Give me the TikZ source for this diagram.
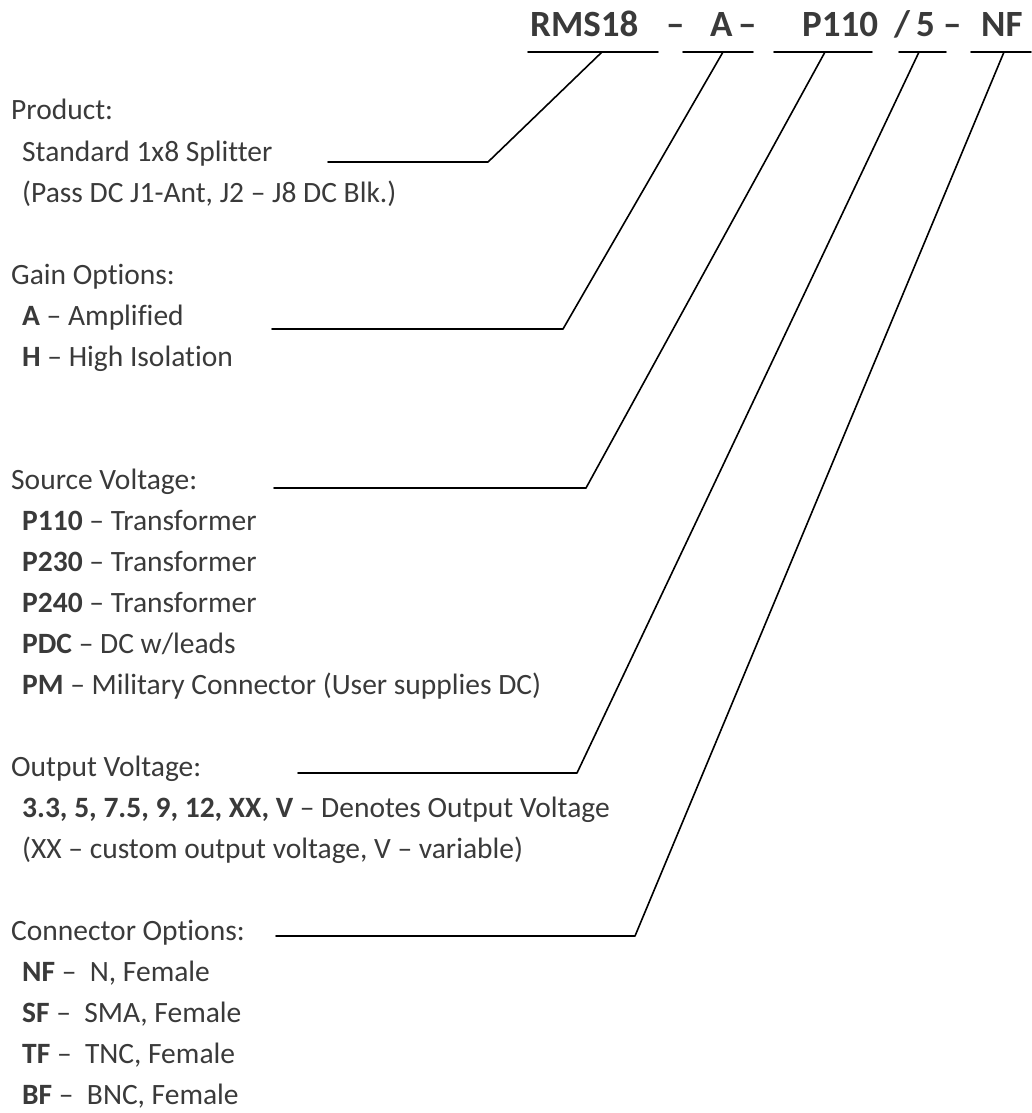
\documentclass[tikz,border=0pt]{standalone}
\usepackage{fontspec}
\setmainfont{Carlito}[Ligatures={TeX,NoCommon}]
\usetikzlibrary{positioning}
\definecolor{txtgray}{HTML}{3A3A3A}
\tikzset{
  lbl/.style={anchor=base west, inner sep=0pt, text=txtgray, font=\fontsize{29.5}{35}\selectfont},
  code/.style={anchor=base west, inner sep=0pt, text=txtgray, font=\fontsize{37}{40}\selectfont\bfseries},
  lead/.style={draw=black, line width=1.6pt},
  every picture/.style={line cap=round, line join=round}
}

\begin{document}
\begin{tikzpicture}[x=1pt, y=-1pt]
  \useasboundingbox (0,0) rectangle (1031,1113);
  % part number
  \node[code] (rms) at (530,37) {RMS18};
  \node[code] (d1) at (666,37) {–};
  \node[code] (gain) at (710,37) {A};
  \node[code] (d2) at (738,37) {–};
  \node[code] (src) at (802,37) {P110};
  \node[code] (sl) at (894,37) {/};
  \node[code] (out) at (916,37) {5};
  \node[code] (d3) at (943,37) {–};
  \node[code] (conn) at (981,37) {NF};
  % underlines
  \coordinate (rmsA) at (528,52);  \coordinate (rmsB) at (658,52);
  \coordinate (gainA) at (683,52); \coordinate (gainB) at (753,52);
  \coordinate (srcA) at (774,52);  \coordinate (srcB) at (872,52);
  \coordinate (outA) at (899,52);  \coordinate (outB) at (946,52);
  \coordinate (connA) at (971,52); \coordinate (connB) at (1031,52);
  \draw[lead] (rmsA)--(rmsB) (gainA)--(gainB) (srcA)--(srcB)
              (outA)--(outB) (connA)--(connB);
  \coordinate (rmsT) at (602,52);
  \coordinate (gainT) at (723,52);
  \coordinate (srcT) at (825,52);
  \coordinate (outT) at (919,52);
  \coordinate (connT) at (1004,52);

  % product
  \node[lbl] (prod) at (11,120) {Product:};
  \node[lbl] (prod1) at (22,161) {Standard 1x8 Splitter};
  \node[lbl] (prod2) at (22,202) {(Pass DC J1-Ant, J2 – J8 DC Blk.)};
  % gain
  \node[lbl] (gn) at (11,284) {Gain Options:};
  \node[lbl] (gn1) at (22,325) {\textbf{A} – Amplified};
  \node[lbl] (gn2) at (22,366) {\textbf{H} – High Isolation};
  % source voltage
  \node[lbl] (sv) at (11,489) {Source Voltage:};
  \node[lbl] (sv1) at (22,530) {\textbf{P110} – Transformer};
  \node[lbl] (sv2) at (22,571) {\textbf{P230} – Transformer};
  \node[lbl] (sv3) at (22,612) {\textbf{P240} – Transformer};
  \node[lbl] (sv4) at (22,653) {\textbf{PDC} – DC w/leads};
  \node[lbl] (sv5) at (22,694) {\textbf{PM} – Military Connector (User supplies DC)};
  % output voltage
  \node[lbl] (ov) at (11,776) {Output Voltage:};
  \node[lbl] (ov1) at (22,817) {\textbf{3.3, 5, 7.5, 9, 12, XX, V} – Denotes Output Voltage};
  \node[lbl] (ov2) at (22,858) {(XX – custom output voltage, V – variable)};
  % connectors
  \node[lbl] (co) at (11,940) {Connector Options:};
  \node[lbl] (co1) at (22,981) {\textbf{NF} – \ N, Female};
  \node[lbl] (co2) at (22,1022) {\textbf{SF} – \ SMA, Female};
  \node[lbl] (co3) at (22,1063) {\textbf{TF} – \ TNC, Female};
  \node[lbl] (co4) at (22,1104) {\textbf{BF} – \ BNC, Female};

  % leaders
  \coordinate (prodL) at (328,162);  \coordinate (prodC) at (488,162);
  \coordinate (gnL) at (272,329);    \coordinate (gnC) at (563,329);
  \coordinate (svL) at (274,488);    \coordinate (svC) at (586,488);
  \coordinate (ovL) at (298,773);    \coordinate (ovC) at (577,773);
  \coordinate (coL) at (276,936);    \coordinate (coC) at (635,936);
  \draw[lead] (prodL)--(prodC)--(rmsT);
  \draw[lead] (gnL)--(gnC)--(gainT);
  \draw[lead] (svL)--(svC)--(srcT);
  \draw[lead] (ovL)--(ovC)--(outT);
  \draw[lead] (coL)--(coC)--(connT);
\end{tikzpicture}
\end{document}
